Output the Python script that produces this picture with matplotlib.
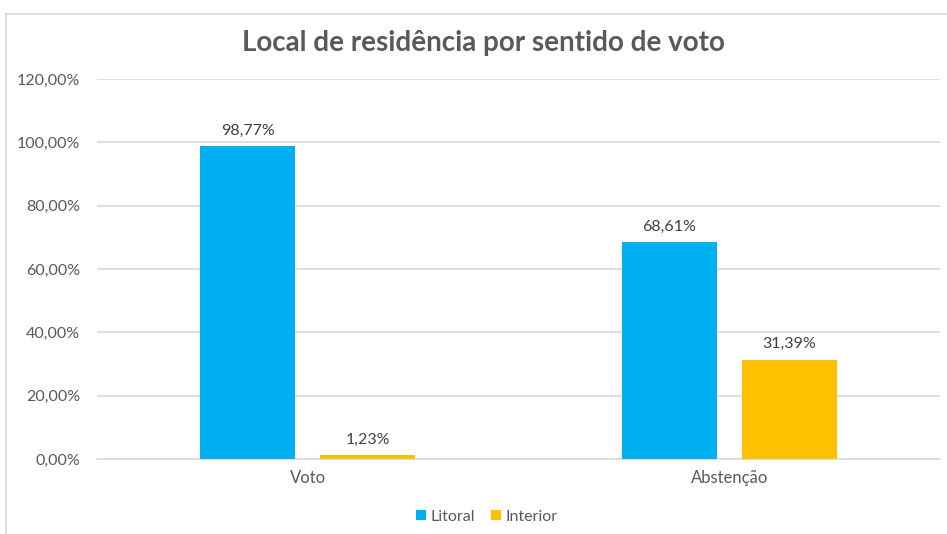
import matplotlib
matplotlib.use("Agg")
import matplotlib.pyplot as plt
from matplotlib.patches import Rectangle
import numpy as np

categories = ["Voto", "Abstenção"]
series_names = ["Litoral", "Interior"]
litoral = [98.77, 68.61]
interior = [1.23, 31.39]
yticks = [0, 20, 40, 60, 80, 100, 120]
title = "Local de residência por sentido de voto"

colors = ["#00B0F0", "#FFC000"]
txt = "#595959"

plt.rcParams['font.family'] = ['Lato', 'DejaVu Sans']

W, H = 947, 534
fig = plt.figure(figsize=(W/100, H/100), dpi=100)
ax = fig.add_axes([97/W, 1-459/H, (940-97)/W, (459-79)/H])

x = np.arange(len(categories))
bw = 0.225
off = 0.142
for vals, name, c, d in [(litoral, series_names[0], colors[0], -off), (interior, series_names[1], colors[1], off)]:
    bars = ax.bar(x + d, vals, bw, color=c, label=name, zorder=3)
    for b, v in zip(bars, vals):
        ax.annotate(f"{v:.2f}%".replace(".", ","), (b.get_x()+b.get_width()/2, v),
                    xytext=(0, 6), textcoords="offset points", ha="center", va="bottom",
                    fontsize=11.5, color="#404040")

ax.set_xlim(-0.5, 1.5)
ax.set_ylim(0, 120)
ax.set_yticks(yticks)
ax.set_yticklabels([f"{t},00%" for t in yticks], fontsize=11.5, color=txt)
ax.set_xticks(x)
ax.set_xticklabels(categories, fontsize=12, color=txt)
ax.tick_params(axis='both', length=0)
ax.tick_params(axis='y', pad=12)
ax.tick_params(axis='x', pad=8)
ax.grid(axis='y', color="#D9D9D9", linewidth=1.2, zorder=0)
for s in ["top", "right", "left"]:
    ax.spines[s].set_visible(False)
ax.spines["bottom"].set_color("#D9D9D9")
ax.spines["bottom"].set_linewidth(1.2)

fig.text(483/W, 1-43/H, title, ha="center", va="center", fontsize=20, fontweight="bold", color=txt)

leg = fig.legend(loc="center", bbox_to_anchor=(487/W, 1-517/H), ncol=2, frameon=False,
                 fontsize=11.5, handlelength=0.6, handleheight=0.6, handletextpad=0.3,
                 columnspacing=1.0, labelcolor=txt)

fig.patches.append(Rectangle((6/W, -0.1), 1, 1.1-14/H, transform=fig.transFigure,
                             fill=False, edgecolor="#D9D9D9", linewidth=1.2))

fig.savefig("out.png", dpi=100)
